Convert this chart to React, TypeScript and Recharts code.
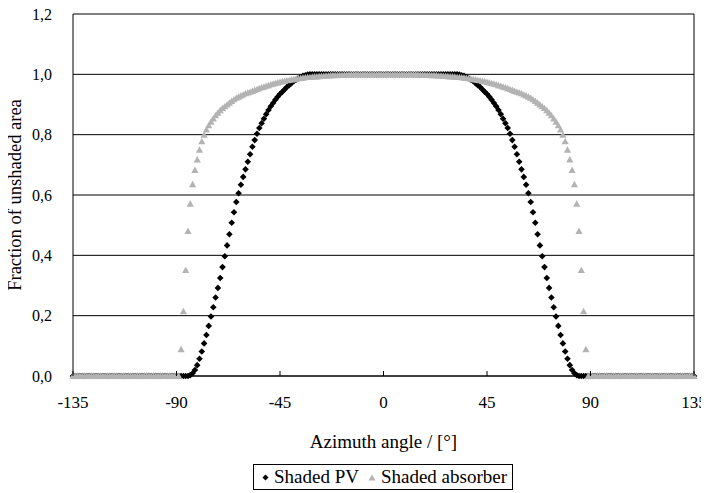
import { ScatterChart, Scatter, XAxis, YAxis, CartesianGrid, Legend, ReferenceLine, Label } from 'recharts'

const FONT = "'Liberation Serif', 'DejaVu Serif', serif"
const W = 709
const H = 493

// both curves are symmetric about 0°, values read for |angle| = 0..90, zero beyond
const pvProfile = [
  1, 1, 1, 1, 1, 1, 1, 1, 1, 1,
  1, 1, 1, 1, 1, 1, 1, 1, 1, 1,
  1, 1, 1, 1, 1, 1, 1, 1, 1, 1,
  1, 1, 1, 0.999, 0.997, 0.995, 0.991, 0.987, 0.982, 0.977,
  0.971, 0.964, 0.958, 0.95, 0.942, 0.935, 0.926, 0.916, 0.905, 0.894,
  0.882, 0.868, 0.853, 0.838, 0.822, 0.803, 0.782, 0.76, 0.735, 0.71,
  0.685, 0.66, 0.634, 0.606, 0.577, 0.543, 0.508, 0.47, 0.433, 0.397,
  0.361, 0.325, 0.292, 0.26, 0.228, 0.197, 0.166, 0.136, 0.108, 0.081,
  0.057, 0.036, 0.02, 0.009, 0.003, 0, 0, 0, 0, 0,
  0,
]

const absorberProfile = [
  1, 1, 1, 1, 1, 1, 1, 1, 1, 1,
  1, 1, 1, 1, 1, 0.999, 0.999, 0.999, 0.998, 0.998,
  0.998, 0.997, 0.997, 0.997, 0.996, 0.996, 0.995, 0.995, 0.994, 0.993,
  0.993, 0.992, 0.991, 0.991, 0.99, 0.989, 0.988, 0.987, 0.985, 0.984,
  0.983, 0.981, 0.98, 0.978, 0.977, 0.975, 0.973, 0.971, 0.969, 0.967,
  0.964, 0.962, 0.959, 0.957, 0.954, 0.951, 0.948, 0.945, 0.942, 0.94,
  0.937, 0.933, 0.93, 0.926, 0.922, 0.917, 0.912, 0.906, 0.9, 0.894,
  0.888, 0.881, 0.873, 0.864, 0.854, 0.843, 0.831, 0.817, 0.8, 0.778,
  0.75, 0.718, 0.683, 0.636, 0.571, 0.481, 0.351, 0.215, 0.089, 0,
  0,
]

const xTicks = [-135, -90, -45, 0, 45, 90, 135]
const yTicks = [0, 0.2, 0.4, 0.6, 0.8, 1.0, 1.2]

// one point per degree from -135 to 135
const angles = Array.from({ length: 271 }, (_, i) => i - 135)

const buildSeries = (profile: number[]) =>
  angles.map((a) => ({ x: a, y: Math.abs(a) < profile.length ? profile[Math.abs(a)] : 0 }))

const pvData = buildSeries(pvProfile)
const absorberData = buildSeries(absorberProfile)

const GREY = '#b3b3b3'

function Diamond({ cx, cy }: any) {
  if (cx == null || cy == null) return null
  const r = 3.3
  return <path d={`M${cx},${cy - r}L${cx + r},${cy}L${cx},${cy + r}L${cx - r},${cy}Z`} fill="#000" />
}

function Triangle({ cx, cy }: any) {
  if (cx == null || cy == null) return null
  return <path d={`M${cx},${cy - 3.4}L${cx + 3.6},${cy + 3}L${cx - 3.6},${cy + 3}Z`} fill={GREY} />
}

const TICK_GAP = 20

function XTick({ x, y, payload }: any) {
  const axisY = y - TICK_GAP
  return (
    <g>
      <line x1={x} x2={x} y1={axisY} y2={axisY - 5} stroke="#000" />
      <text x={x} y={y} dy="0.71em" textAnchor="middle" fill="#000" fontSize={17} fontFamily={FONT}>
        {payload.value}
      </text>
    </g>
  )
}

function YTitle({ viewBox }: any) {
  const x = viewBox.x + 7
  const y = viewBox.y + viewBox.height / 2
  return (
    <text x={x} y={y} transform={`rotate(-90, ${x}, ${y})`} textAnchor="middle" dominantBaseline="central"
      fontSize={18.5} fontFamily={FONT} fill="#000">
      Fraction of unshaded area
    </text>
  )
}

function XTitle({ viewBox }: any) {
  return (
    <text x={viewBox.x + viewBox.width / 2} y={viewBox.y + 65} textAnchor="middle" dominantBaseline="central"
      fontSize={19} fontFamily={FONT} fill="#000">
      Azimuth angle / [°]
    </text>
  )
}

function LegendBox() {
  return (
    <div style={{ display: 'flex', justifyContent: 'center', paddingLeft: 57 }}>
      <div
        style={{
          display: 'flex', alignItems: 'center', border: '1px solid #000', height: 24,
          padding: '0 5px 0 8px', fontFamily: FONT, fontSize: 19, color: '#000', lineHeight: '24px',
        }}
      >
        <svg width={7} height={7}><path d="M3.5,0.5L6.5,3.5L3.5,6.5L0.5,3.5Z" fill="#000" /></svg>
        <span style={{ marginLeft: 5 }}>Shaded PV</span>
        <svg width={8} height={7} style={{ marginLeft: 9 }}><path d="M4,0.5L7.5,6.5L0.5,6.5Z" fill={GREY} /></svg>
        <span style={{ marginLeft: 5 }}>Shaded absorber</span>
      </div>
    </div>
  )
}

export default function App() {
  return (
    <div style={{ margin: '-8px -8px 0 -8px' }}>
      <ScatterChart width={W} height={H} margin={{ top: 14, right: 15, bottom: 3, left: 8 }}>
        <CartesianGrid vertical={false} stroke="#000" />
        <XAxis
          type="number"
          dataKey="x"
          domain={[-135, 135]}
          ticks={xTicks}
          interval={0}
          tickSize={0}
          tickLine={false}
          tickMargin={TICK_GAP}
          tick={<XTick />}
          axisLine={{ stroke: '#000' }}
          height={88}
        >
          <Label content={<XTitle />} />
        </XAxis>
        <YAxis
          type="number"
          dataKey="y"
          domain={[0, 1.2]}
          ticks={yTicks}
          interval={0}
          tickSize={0}
          tickLine={false}
          tickMargin={21}
          tickFormatter={(v) => v.toFixed(1).replace('.', ',')}
          tick={{ fontSize: 16, fontFamily: FONT, fill: '#000' }}
          axisLine={{ stroke: '#000' }}
          width={65}
        >
          <Label content={<YTitle />} />
        </YAxis>
        <ReferenceLine x={135} stroke="#000" />
        <Legend verticalAlign="bottom" wrapperStyle={{ left: 0, width: W, bottom: 3 }} content={<LegendBox />} />
        <Scatter name="Shaded PV" data={pvData} shape={<Diamond />} isAnimationActive={false} />
        <Scatter name="Shaded absorber" data={absorberData} shape={<Triangle />} isAnimationActive={false} />
      </ScatterChart>
    </div>
  )
}
